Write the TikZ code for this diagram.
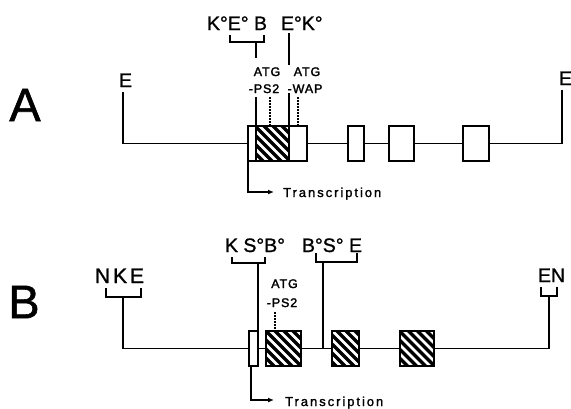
\documentclass[tikz,border=0pt]{standalone}
\usepackage{fontspec}
\setmainfont[FakeBold=1.2]{Liberation Sans}
\newfontfamily\smfont[FakeBold=2,LetterSpace=7]{Liberation Sans}
\newfontfamily\trfont[FakeBold=1.5,LetterSpace=15]{Liberation Sans}
\usetikzlibrary{arrows.meta}
\begin{document}
\begin{tikzpicture}[x=1pt,y=-1pt,
  ln/.style={line width=1.8pt},
  dots/.style={line width=1.2pt, dash pattern=on 1.5pt off 1.5pt},
  box/.style={draw, line width=1.8pt, fill=white, inner sep=0pt, outer sep=0pt, minimum height=35pt},
  hbox/.style={box, path picture={\foreach \i in {-72,-63,...,72}{\draw[line width=3.2pt] ([xshift=\i pt]path picture bounding box.center) ++(-40pt,40pt) -- ++(80pt,-80pt);}}},
  lbl/.style={inner sep=0pt, outer sep=0pt, font=\fontsize{19.5}{20}\selectfont, anchor=base west},
  sm/.style={inner sep=0pt, font=\smfont\fontsize{12.5}{13}\selectfont, anchor=base},
  tr/.style={inner sep=0pt, font=\trfont\fontsize{13}{14}\selectfont, anchor=base west},
  big/.style={inner sep=0pt, font=\fontsize{47}{48}\selectfont},
  arr/.style={ln, -{Latex[length=6pt,width=5pt]}}]
\useasboundingbox (0,0) rectangle (571,408);
% ---------- Panel A ----------
\node[big] (lA) at (25,105) {A};
\node[lbl] (eL) at (119,87) {E};
\node[lbl] (eR) at (559,85) {E};
\coordinate (eLs) at (122.7,92);
\coordinate (eRs) at (562,90);
\node[box, minimum width=59pt] (A1) at (277.5,143.5) {};
\node[hbox, minimum width=33pt] (A1h) at (272.5,143.5) {};
\node[box, minimum width=16pt] (A2) at (356,143.5) {};
\node[box, minimum width=25pt] (A3) at (401.5,143.5) {};
\node[box, minimum width=26pt] (A4) at (476,143.5) {};
\draw[ln] (eLs) |- (A1.west);
\draw[ln] (A1.east) -- (A2.west);
\draw[ln] (A2.east) -- (A3.west);
\draw[ln] (A3.east) -- (A4.west);
\draw[ln] (A4.east) -| (eRs);
% top labels A
\node[lbl] (kA) at (207,30) {K°E° B};
\node[lbl] (ekA) at (281,30) {E°K°};
\coordinate (b1l) at (230,35);
\coordinate (b1m) at (256,42);
\coordinate (b1r) at (264,35);
\draw[ln] (b1l) |- (b1m) -| (b1r);
\coordinate (s1a) at (256,58);
\draw[ln] (b1m) -- (s1a);
\node[sm] (atg1) at (267,76) {ATG};
\node[sm] (ps2a) at (264,93) {-PS2};
\coordinate (s1b) at (256,97);
\draw[ln] (s1b) -- (A1h.north west);
\coordinate (d1) at (270,97);
\draw[dots] (d1) -- (d1 |- A1.north);
\coordinate (s2t) at (289,33);
\coordinate (s2a) at (289,65);
\draw[ln] (s2t) -- (s2a);
\node[sm] (atg2) at (307,76) {ATG};
\node[sm] (wap) at (305,93) {-WAP};
\coordinate (s2b) at (289,93);
\draw[ln] (s2b) -- (A1h.north east);
\coordinate (d2) at (298,97);
\draw[dots] (d2) -- (d2 |- A1.north);
\coordinate (tA) at (274,192);
\draw[arr] (A1.south west) |- (tA);
\node[tr] (trA) at (283,197) {Transcription};
% ---------- Panel B ----------
\node[big] (lB) at (24,302) {B};
\node[lbl, font=\fontsize{21}{22}\selectfont\addfontfeature{LetterSpace=14}] (nke) at (95,283) {NKE};
\coordinate (nkl) at (106,288);
\coordinate (nkm) at (123,297);
\coordinate (nkr) at (141,288);
\draw[ln] (nkl) |- (nkm) -| (nkr);
\node[box, minimum width=9pt] (B0) at (253.5,348.5) {};
\node[hbox, minimum width=35pt] (B1) at (283.5,348.5) {};
\node[hbox, minimum width=27pt] (B2) at (345.5,348.5) {};
\node[hbox, minimum width=34pt] (B3) at (417,348.5) {};
\draw[ln] (nkm) |- (B0.west);
\draw[ln] (B0.east) -- (B1.west);
\draw[ln] (B1.east) -- (B2.west);
\draw[ln] (B2.east) -- (B3.west);
\coordinate (enm) at (549,296);
\draw[ln] (B3.east) -| (enm);
\coordinate (enl) at (541,287);
\coordinate (enr) at (557,287);
\draw[ln] (enl) |- (enm) -| (enr);
\node[lbl] (en) at (538,282) {EN};
% top labels B
\node[lbl] (ksb) at (225,252) {K S°B°};
\coordinate (k1l) at (232,257);
\coordinate (k1m) at (258,263);
\coordinate (k1r) at (265,257);
\draw[ln] (k1l) |- (k1m) -| (k1r);
\draw[ln] (k1m) -- (B0.north east);
\node[sm] (atg3) at (284.5,288) {ATG};
\node[sm] (ps2b) at (282,307) {-PS2};
\coordinate (d3) at (275,312);
\draw[dots] (d3) -- (d3 |- B1.north);
\node[lbl] (bse) at (302,252) {B°S° E};
\coordinate (k2l) at (316,253);
\coordinate (k2m) at (323,262);
\coordinate (k2r) at (357,253);
\draw[ln] (k2l) |- (k2m) -| (k2r);
\draw[ln] (k2m) -- (k2m |- B1.east);
\coordinate (tB) at (274,400);
\draw[arr] ([xshift=2pt]B0.south west) |- (tB);
\node[tr] (trB) at (285,406) {Transcription};
\end{tikzpicture}
\end{document}
